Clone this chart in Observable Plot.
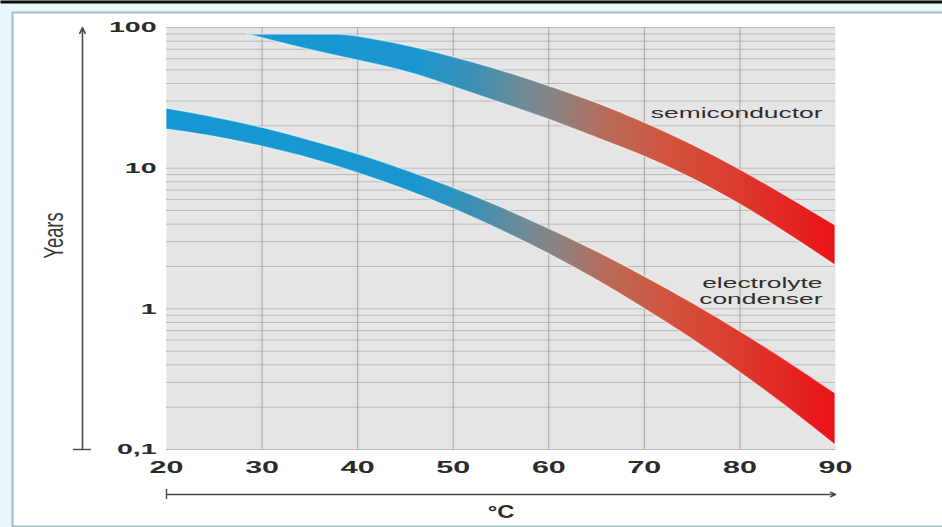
<!DOCTYPE html>
<html><head><meta charset="utf-8">
<script src="https://cdn.jsdelivr.net/npm/d3@7"></script>
<script src="https://cdn.jsdelivr.net/npm/@observablehq/plot@0.6"></script>
<style>html,body{margin:0;padding:0;background:#fff;overflow:hidden} svg{display:block}</style>
</head><body><div id="chart"></div>
<script>
// ---- data ----
const xTicks = [20, 30, 40, 50, 60, 70, 80, 90];
const xGrid = [30, 40, 50, 60, 70, 80];
const yTicks = [0.1, 1, 10, 100];
const yGrid = [0.1, 0.2, 0.3, 0.4, 0.5, 0.6, 0.7, 0.8, 0.9,
               1, 2, 3, 4, 5, 6, 7, 8, 9,
               10, 20, 30, 40, 50, 60, 70, 80, 90, 100];

const semiT  = [28.5, 33, 38, 42, 46, 50, 55, 60, 65, 70, 75, 80, 85, 90];
const semiHi = [89.2, 89.2, 89.2, 81.8, 72.1, 61.7, 49.5, 38.4, 29.1, 21.1, 14.7, 9.78, 6.24, 3.91];
const semiLo = [89.2, 74.5, 62.2, 54.3, 46.3, 37.8, 29.0, 22.1, 16.4, 12.1, 8.44, 5.52, 3.40, 2.03];

const elecT  = [20, 25, 30, 35, 40, 45, 50, 55, 60, 65, 70, 75, 80, 85, 90];
const elecHi = [26.6, 23.0, 19.4, 15.8, 12.6, 9.69, 7.25, 5.28, 3.72, 2.56, 1.70, 1.10, 0.692, 0.422, 0.25];
const elecLo = [18.8, 16.7, 14.2, 11.7, 9.22, 7.01, 5.13, 3.61, 2.45, 1.60, 1.00, 0.607, 0.353, 0.198, 0.107];

const seriesLabels = ["semiconductor", "electrolyte", "condenser"];
const seriesLabelY = [24.5, 1.52, 1.18];

const gradT = [20, 46, 52, 57, 61, 66, 72, 80, 90];
const gradC = ["#1698d4", "#1a96cf", "#3a90b5", "#6b8c98", "#8e8282", "#b86b5a", "#d0553f", "#dc3a2e", "#ea1219"];

const yAxisTitle = "Years";
const xAxisTitle = "°C";

// ---- tables ----
const semi = semiT.map((t, i) => ({t, lo: semiLo[i], hi: semiHi[i]}));
const elec = elecT.map((t, i) => ({t, lo: elecLo[i], hi: elecHi[i]}));
const labels = seriesLabels.map((text, i) => ({text, y: seriesLabelY[i]}));
const xArrow = [{x1: xTicks[0], x2: xTicks[xTicks.length - 1], y: yTicks[0]}];
const yArrow = [{x: xTicks[0], y1: yTicks[0], y2: yTicks[yTicks.length - 1]}];

const bandStyle = {x: "t", y1: "lo", y2: "hi", curve: "monotone-x", fill: "url(#bandGrad)",
                   stroke: "#ffffff", strokeOpacity: 0.55, strokeWidth: 1.4};

const plot = Plot.plot({
  width: 942, height: 527,
  marginLeft: 166, marginRight: 107, marginTop: 27, marginBottom: 78,
  style: {fontFamily: "'Liberation Sans', Arial, sans-serif", background: "#eaf7fa", color: "#2b2b2b"},
  x: {domain: [20, 90]},
  y: {type: "log", domain: [0.1, 100]},
  marks: [
    Plot.frame({fill: "#fff", stroke: "#9fc0c6", strokeWidth: 2, insetLeft: -154, insetTop: -15, insetRight: -130, insetBottom: -77}),
    Plot.frame({fill: "#0d0d0d", stroke: null, insetLeft: -166, insetRight: -107, insetTop: -27, insetBottom: 446}),
    Plot.frame({fill: "#e5e5e5"}),
    Plot.ruleY(yGrid, {stroke: "#bbbbbb", strokeWidth: 1}),
    Plot.ruleX(xGrid, {stroke: "#a6a6a6", strokeWidth: 1}),
    Plot.areaY(semi, bandStyle),
    Plot.areaY(elec, bandStyle),
    Plot.text(labels, {x: 90, y: "y", text: "text", textAnchor: "end", dx: -13, fontSize: 15, fill: "#2e2e2e"}),
    Plot.text([yAxisTitle], {text: d => d, frameAnchor: "left", textAnchor: "middle", dx: -112, dy: -3, rotate: -90, fontSize: 27, fill: "#3a3a3a"}),
    Plot.text([xAxisTitle], {text: d => d, frameAnchor: "bottom", dy: 68, fontSize: 19, fontWeight: "bold", fill: "#2b2b2b"}),
    Plot.arrow(yArrow, {x1: "x", x2: "x", y1: "y1", y2: "y2", dx: -84, stroke: "#4a4a4a", strokeWidth: 1.6, headLength: 6, headAngle: 50}),
    Plot.ruleY([yTicks[0]], {x1: xTicks[0], x2: xTicks[0], dx: -84, insetLeft: -9, insetRight: -9, stroke: "#4a4a4a", strokeWidth: 1.4}),
    Plot.arrow(xArrow, {x1: "x1", x2: "x2", y1: "y", y2: "y", dy: 45, stroke: "#4a4a4a", strokeWidth: 1.4, headLength: 6, headAngle: 50}),
    Plot.ruleX([xTicks[0]], {y1: yTicks[0], y2: yTicks[0], dy: 45, insetTop: -5, insetBottom: -5, stroke: "#4a4a4a", strokeWidth: 1.4}),
    Plot.axisX({ticks: xTicks, tickSize: 0, tickPadding: 12, fontSize: 16, fontWeight: "bold", label: null, tickFormat: d => String(d)}),
    Plot.axisY({ticks: yTicks, tickSize: 0, tickPadding: 10, fontSize: 15, fontWeight: "bold", label: null, tickFormat: d => String(d).replace(".", ",")})
  ]
});

// horizontal colour gradient shared by both bands (positions from the x scale)
const xs = plot.scale("x");
const defs = d3.select(plot).insert("defs", ":first-child");
const grad = defs.append("linearGradient").attr("id", "bandGrad")
  .attr("gradientUnits", "userSpaceOnUse")
  .attr("x1", xs.apply(gradT[0])).attr("x2", xs.apply(gradT[gradT.length - 1]))
  .attr("y1", 0).attr("y2", 0);
gradT.forEach((t, i) => grad.append("stop")
  .attr("offset", (t - gradT[0]) / (gradT[gradT.length - 1] - gradT[0]))
  .attr("stop-color", gradC[i]));

document.getElementById("chart").appendChild(plot);

// the reference typography is horizontally stretched
plot.querySelectorAll("text").forEach(t => {
  const s = t.textContent;
  const f = s === yAxisTitle ? 0.68 : s === xAxisTitle ? 1.25 : seriesLabels.includes(s) ? 1.76 : 1.9;
  const L = t.getComputedTextLength();
  t.setAttribute("textLength", L * f);
  t.setAttribute("lengthAdjust", "spacingAndGlyphs");
});
</script>
</body></html>
